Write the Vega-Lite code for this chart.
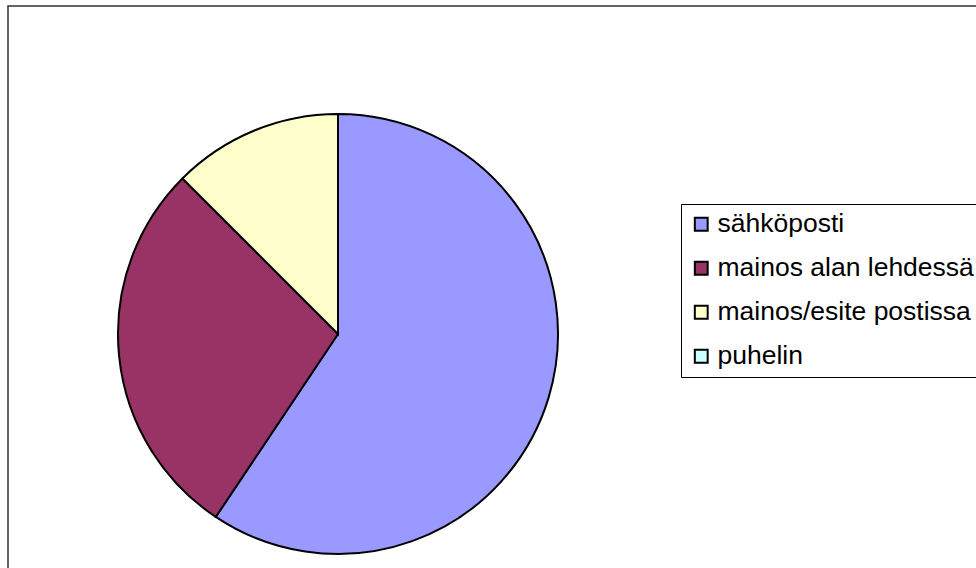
{
  "$schema": "https://vega.github.io/schema/vega-lite/v6.json",
  "autosize": "none",
  "padding": {"left": 8, "top": 6, "right": 0, "bottom": 0},
  "width": 1100,
  "height": 700,
  "background": "white",
  "view": {"stroke": "#333333", "strokeWidth": 1.5, "fill": "white"},
  "config": {
    "font": "Liberation Sans",
    "legend": {"strokeColor": "black", "padding": 7}
  },
  "data": {
    "values": [
      {"kanava": "sähköposti", "value": 19},
      {"kanava": "mainos alan lehdessä", "value": 9},
      {"kanava": "mainos/esite postissa", "value": 4},
      {"kanava": "puhelin", "value": 0}
    ]
  },
  "mark": {"type": "arc", "outerRadius": 220, "x": 330, "y": 328, "stroke": "black", "strokeWidth": 2},
  "encoding": {
    "theta": {"field": "value", "type": "quantitative", "stack": true},
    "order": {"field": "value", "type": "quantitative", "sort": "descending"},
    "color": {
      "field": "kanava",
      "type": "nominal",
      "scale": {
        "domain": ["sähköposti", "mainos alan lehdessä", "mainos/esite postissa", "puhelin"],
        "range": ["#9999FF", "#993366", "#FFFFCC", "#CCFFFF"]
      },
      "legend": {
        "title": null,
        "orient": "none",
        "legendX": 673,
        "legendY": 198,
        "direction": "vertical",
        "fillColor": "white",
        "symbolType": "square",
        "symbolSize": 165,
        "symbolStrokeColor": "black",
        "symbolStrokeWidth": 2,
        "labelFont": "Liberation Sans",
        "labelFontSize": 26.5,
        "labelColor": "black",
        "labelOffset": 3,
        "labelLimit": 400,
        "rowPadding": 17
      }
    }
  }
}
